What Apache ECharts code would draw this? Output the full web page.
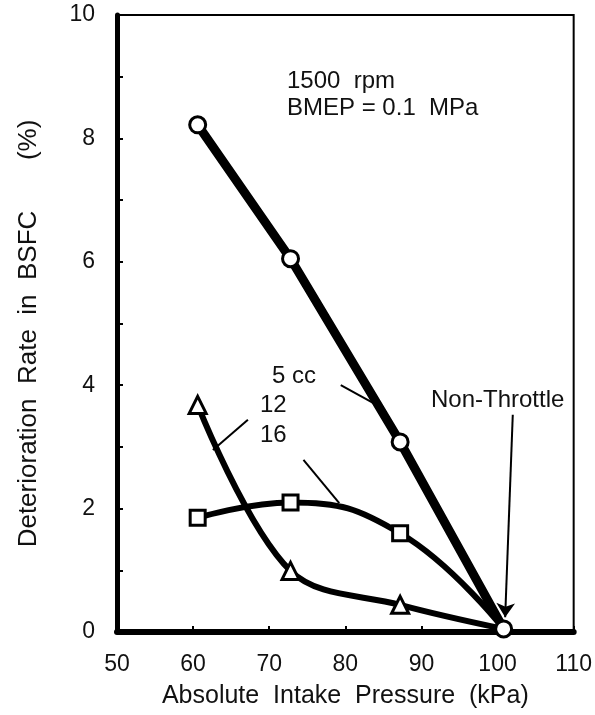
<!DOCTYPE html>
<html>
<head>
<meta charset="utf-8">
<script src="https://cdn.jsdelivr.net/npm/echarts@6/dist/echarts.min.js"></script>
<style>
  html, body { margin: 0; padding: 0; background: #fff; }
  #main { width: 595px; height: 715px; }
</style>
</head>
<body>
<div id="main"></div>
<script>
// ---- data ----
const pressure = [60.6, 72.8, 87.2, 100.8];          // kPa
const bsfc5cc = [8.22, 6.05, 3.08, 0.05];            // circles
const bsfc12cc = [3.68, 0.99, 0.44, 0.05];           // triangles
const bsfc16cc = [1.85, 2.1, 1.6, 0.05];             // squares
const xTicks = [50, 60, 70, 80, 90, 100, 110];
const yTicks = [0, 2, 4, 6, 8, 10];

// leader lines [x1, y1, x2, y2] in data units
const leader5 = [79.4, 4.0, 83.7, 3.71];
const leader12 = [67.2, 3.44, 62.6, 2.95];
const leader16 = [74.5, 2.79, 79.2, 2.09];
const arrowNT = [102.0, 3.52, 101.0, 0.24];

const FONT = 'Liberation Sans, Arial, sans-serif';

function pairs(xs, ys) {
    return xs.map((x, i) => [x, ys[i]]);
}

function leader(c, arrow) {
    return {
        silent: true,
        symbol: arrow ? ['none', 'arrow'] : ['none', 'none'],
        symbolSize: 14,
        lineStyle: { color: '#000', width: 2, type: 'solid' },
        label: { show: false },
        data: [[{ coord: [c[0], c[1]] }, { coord: [c[2], c[3]] }]]
    };
}

const last = pressure.length - 1;
const txt = (s, left, top) => ({
    type: 'text', left, top,
    style: { text: s, font: '24px ' + FONT, fill: '#111' }
});

const chart = echarts.init(document.getElementById('main'));
chart.setOption({
    backgroundColor: '#fff',
    animation: false,
    grid: {
        left: 117, right: 13, top: 15, bottom: 83,
        show: true, borderColor: '#000', borderWidth: 2
    },
    xAxis: {
        type: 'value',
        min: xTicks[0], max: xTicks[xTicks.length - 1], interval: 10,
        name: 'Absolute  Intake  Pressure  (kPa)',
        nameLocation: 'middle', nameGap: 52,
        nameTextStyle: { fontFamily: FONT, fontSize: 25, color: '#111' },
        axisLine: { lineStyle: { color: '#000', width: 6 } },
        axisTick: { inside: true, length: 6, lineStyle: { color: '#000', width: 2 } },
        axisLabel: { fontFamily: FONT, fontSize: 23, color: '#111', margin: 21 },
        splitLine: { show: false }
    },
    yAxis: {
        type: 'value',
        min: yTicks[0], max: yTicks[yTicks.length - 1], interval: 2,
        name: 'Deterioration  Rate  in  BSFC       (%)',
        nameLocation: 'middle', nameGap: 75,
        nameTextStyle: { fontFamily: FONT, fontSize: 26, color: '#111', padding: [0, 20, 0, 0] },
        axisLine: { lineStyle: { color: '#000', width: 5 } },
        axisTick: { inside: true, length: 6, lineStyle: { color: '#000', width: 2 } },
        minorTick: { show: true, splitNumber: 2, length: 6, lineStyle: { color: '#000', width: 2 } },
        axisLabel: { fontFamily: FONT, fontSize: 23, color: '#111', margin: 22 },
        splitLine: { show: false }
    },
    graphic: [
        txt('1500  rpm', 287, 69),
        txt('BMEP = 0.1  MPa', 287, 96),
        txt('5 cc', 272, 364),
        txt('12', 260, 393),
        txt('16', 260, 423),
        txt('Non-Throttle', 431, 388)
    ],
    series: [
        {
            name: '12 cc',
            type: 'line',
            smooth: 0.35,
            data: pairs(pressure, bsfc12cc),
            symbol: (v, p) => p.dataIndex === last ? 'none' : 'triangle',
            symbolSize: 17,
            lineStyle: { color: '#000', width: 6 },
            itemStyle: { color: '#fff', borderColor: '#000', borderWidth: 3 },
            markLine: leader(leader12, false),
            z: 2
        },
        {
            name: '16 cc',
            type: 'line',
            smooth: 0.45,
            data: pairs(pressure, bsfc16cc),
            symbol: (v, p) => p.dataIndex === last ? 'none' : 'rect',
            symbolSize: 15,
            lineStyle: { color: '#000', width: 6 },
            itemStyle: { color: '#fff', borderColor: '#000', borderWidth: 3 },
            markLine: leader(leader16, false),
            z: 3
        },
        {
            name: '5 cc',
            type: 'line',
            smooth: false,
            data: pairs(pressure, bsfc5cc),
            symbol: 'circle',
            symbolSize: 16,
            lineStyle: { color: '#000', width: 9 },
            itemStyle: { color: '#fff', borderColor: '#000', borderWidth: 3 },
            markLine: leader(leader5, false),
            z: 4
        },
        {
            name: 'Non-Throttle',
            type: 'line',
            data: [],
            markLine: leader(arrowNT, true),
            z: 5
        }
    ]
});
</script>
</body>
</html>
